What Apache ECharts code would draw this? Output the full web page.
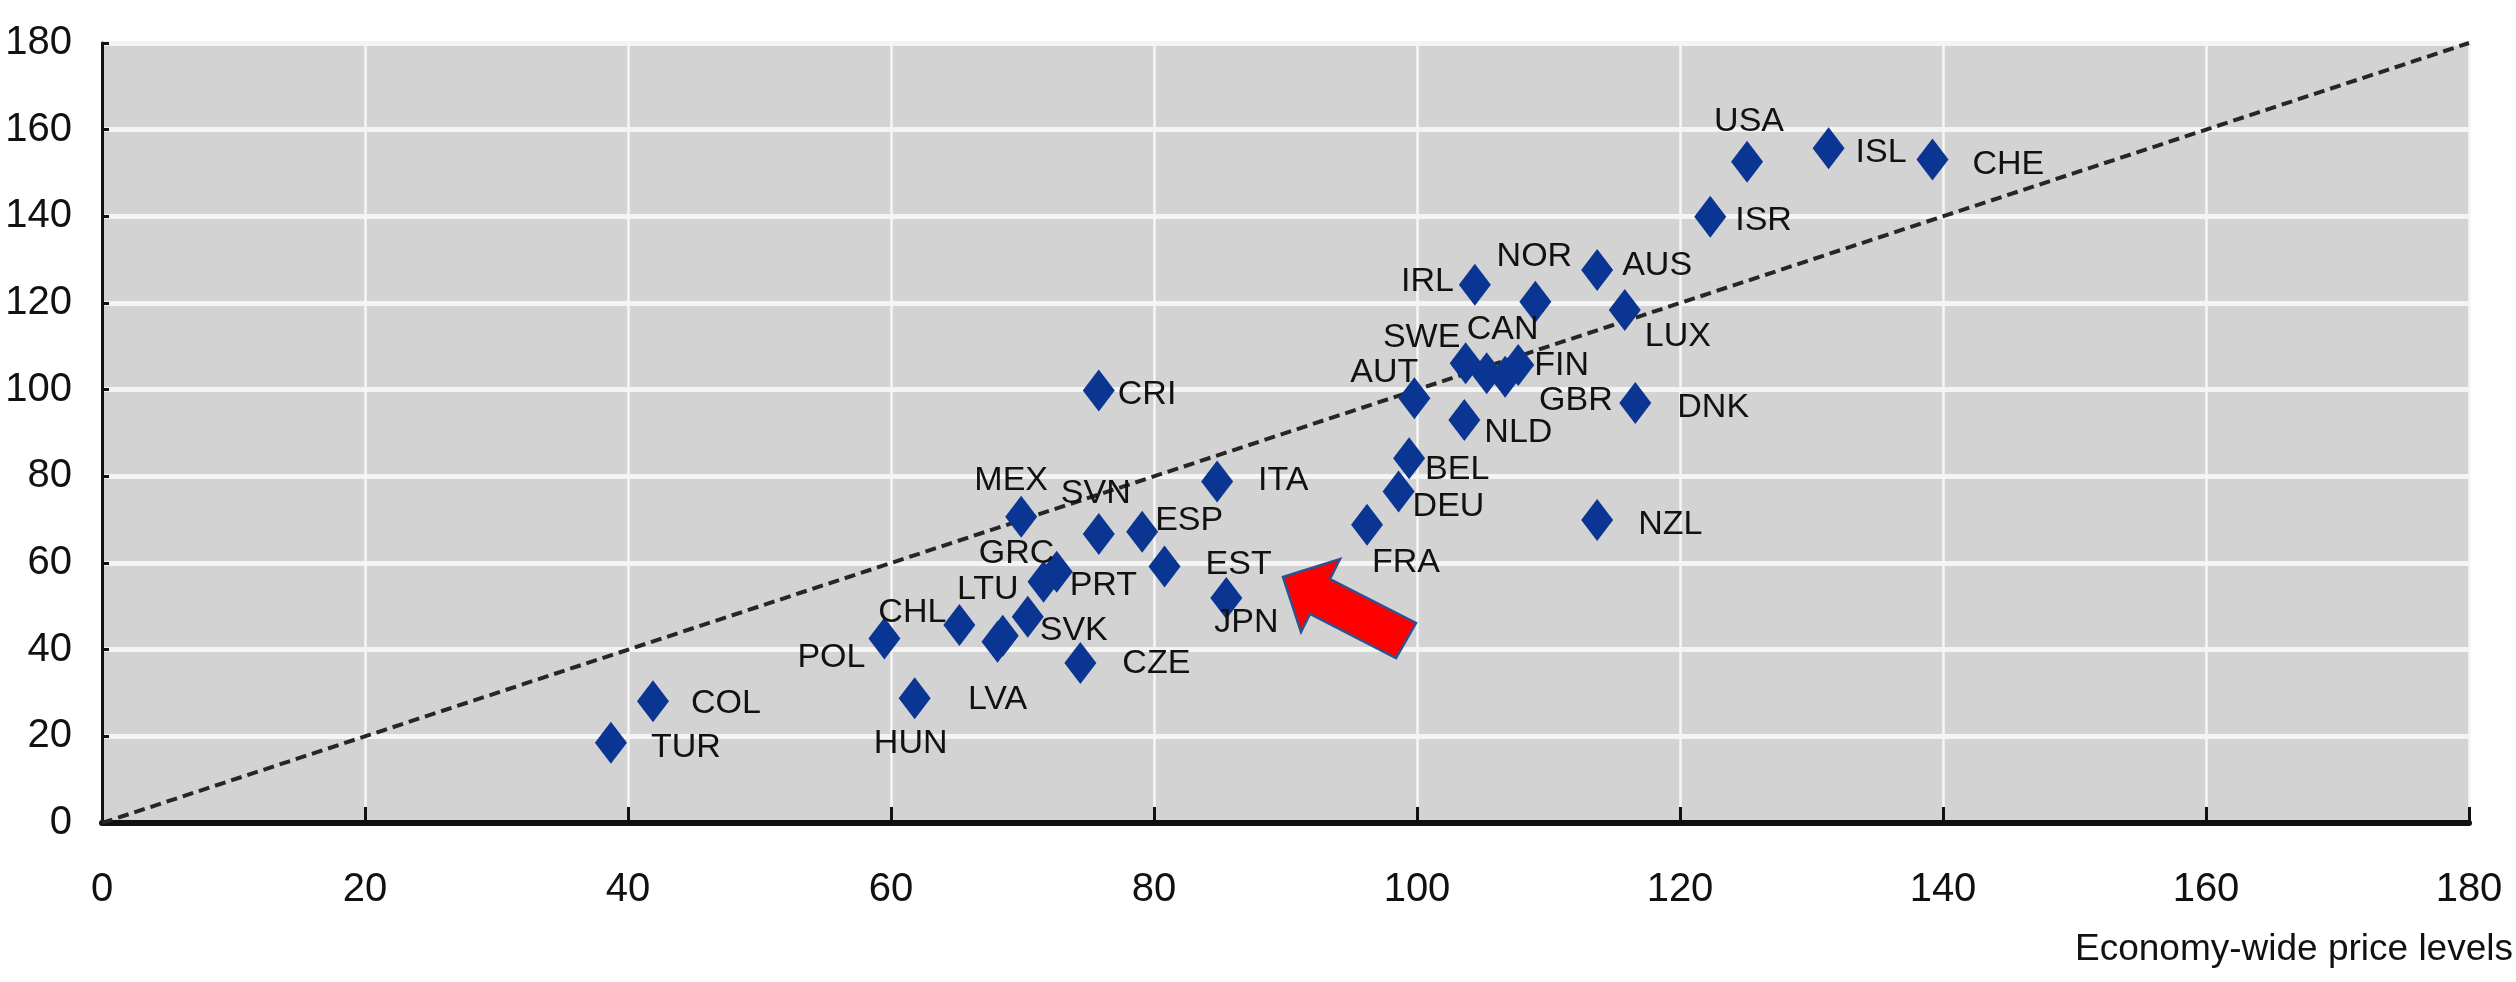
<!DOCTYPE html>
<html>
<head>
<meta charset="utf-8">
<script src="https://cdn.jsdelivr.net/npm/echarts@6/dist/echarts.min.js"></script>
<style>
  html, body { margin: 0; padding: 0; background: #ffffff; }
  #chart { width: 2516px; height: 982px; }
</style>
</head>
<body>
<div id="chart"></div>
<script>
// ---- data ----
const countries = ['TUR','COL','POL','HUN','CHL','LTU','LVA','SVK','GRC','PRT','CZE','MEX','SVN','ESP','EST','JPN','ITA','CRI','FRA','DEU','BEL','AUT','NLD','SWE','CAN','GBR','FIN','IRL','NOR','AUS','LUX','DNK','NZL','ISR','USA','ISL','CHE'];
const economyPriceLevel = [38.7,41.9,59.5,61.8,65.2,68.5,68.1,70.4,71.6,72.6,74.4,69.9,75.8,79.1,80.8,85.5,84.8,75.8,96.2,98.6,99.4,99.8,103.6,103.7,105.3,106.7,107.7,104.4,109.0,113.7,115.8,116.6,113.7,122.3,125.1,131.3,139.2];
const sectorPriceLevel  = [18.5,28.1,42.6,28.8,45.7,43.2,41.8,47.6,55.7,58.0,36.9,70.7,66.7,67.2,59.2,51.9,78.8,99.8,68.8,76.5,84.2,98.0,93.0,106.1,103.8,103.0,105.7,124.2,120.3,127.6,118.4,96.9,69.9,139.9,152.6,155.7,153.1];
const parityLine = [[0, 0], [180, 180]];
const axisTicks = [0, 20, 40, 60, 80, 100, 120, 140, 160, 180];

// ---- label placement (style only): [align, dx, dy] from marker centre ----
const labelPlacement = {
  TUR:['left',40,5], COL:['left',38,2], POL:['right',-19,19], HUN:['center',-4,45],
  CHL:['right',-13,-12], LTU:['center',-15,-46], LVA:['center',0,58], SVK:['left',12,14],
  GRC:['center',-27,-28], PRT:['left',13,14], CZE:['left',42,1], MEX:['center',-10,-36],
  SVN:['center',-3,-40], ESP:['left',13,-11], EST:['left',41,-2], JPN:['center',20,25],
  ITA:['left',41,-1], CRI:['left',19,4], FRA:['center',39,38], DEU:['left',14,15],
  BEL:['left',16,11], AUT:['center',-30,-26], NLD:['left',20,13], SWE:['center',-44,-26],
  CAN:['center',16,-44], FIN:['left',16,1], GBR:['left',34,24], IRL:['right',-21,-3],
  NOR:['center',-1,-45], AUS:['left',25,-4], LUX:['left',20,27], DNK:['left',42,5],
  NZL:['left',41,5], ISR:['left',25,4], USA:['center',2,-40], ISL:['left',27,4], CHE:['left',40,5]
};

const FONT = "'Liberation Sans', Arial, sans-serif";

const points = countries.map((c, i) => ({
  name: c,
  value: [economyPriceLevel[i], sectorPriceLevel[i]]
}));

const chart = echarts.init(document.getElementById('chart'), null, { renderer: 'canvas' });

const axisMin = axisTicks[0], axisMax = axisTicks[axisTicks.length - 1];
const axisStep = axisTicks[1] - axisTicks[0];

chart.setOption({
  animation: false,
  backgroundColor: '#ffffff',
  grid: {
    left: 102, right: 47, top: 43, bottom: 159,
    show: true, backgroundColor: '#d3d3d3', borderWidth: 0
  },
  xAxis: {
    type: 'value', min: axisMin, max: axisMax, interval: axisStep,
    name: 'Economy-wide price levels',
    nameLocation: 'end', nameGap: 44,
    nameTextStyle: { fontFamily: FONT, fontSize: 37, color: '#111', align: 'right', verticalAlign: 'top', padding: [108, 0, 0, 0] },
    axisLine: { show: true, onZero: false, lineStyle: { color: '#111', width: 6 } },
    axisTick: { show: true, inside: true, length: 16, lineStyle: { color: '#111', width: 3 } },
    axisLabel: { fontFamily: FONT, fontSize: 40, color: '#111', margin: 47 },
    splitLine: { show: true, lineStyle: { color: '#f6f6f6', width: 2.5 } }
  },
  yAxis: {
    type: 'value', min: axisMin, max: axisMax, interval: axisStep,
    axisLine: { show: true, onZero: false, lineStyle: { color: '#111', width: 3 } },
    axisTick: { show: true, inside: true, length: 7, lineStyle: { color: '#111', width: 3 } },
    axisLabel: { fontFamily: FONT, fontSize: 40, color: '#111', margin: 30 },
    splitLine: { show: true, lineStyle: { color: '#f4f4f4', width: 5 } }
  },
  series: [
    {
      type: 'line',
      data: parityLine,
      symbol: 'none',
      silent: true,
      z: 1,
      lineStyle: { color: '#262626', width: 4, type: [11, 6] }
    },
    {
      type: 'scatter',
      data: points,
      symbol: 'diamond',
      symbolSize: [32, 42],
      z: 2,
      itemStyle: { color: '#0a3592', opacity: 1 },
      label: {
        show: true, position: 'inside', formatter: '{b}',
        fontFamily: FONT, fontSize: 34, color: '#111'
      },
      labelLayout: function (params) {
        const p = labelPlacement[countries[params.dataIndex]];
        const r = params.rect;
        return {
          x: r.x + r.width / 2 + p[1],
          y: r.y + r.height / 2 + p[2],
          align: p[0],
          verticalAlign: 'middle',
          hideOverlap: false
        };
      }
    }
  ],
  graphic: [
    {
      type: 'polygon',
      z: 100,
      shape: {
        points: [[1283, 577], [1340, 559], [1330, 579], [1416, 623], [1396, 658], [1310, 614], [1301, 632]]
      },
      style: { fill: '#ff0000', stroke: '#2f528f', lineWidth: 2.5 }
    }
  ]
});
</script>
</body>
</html>
